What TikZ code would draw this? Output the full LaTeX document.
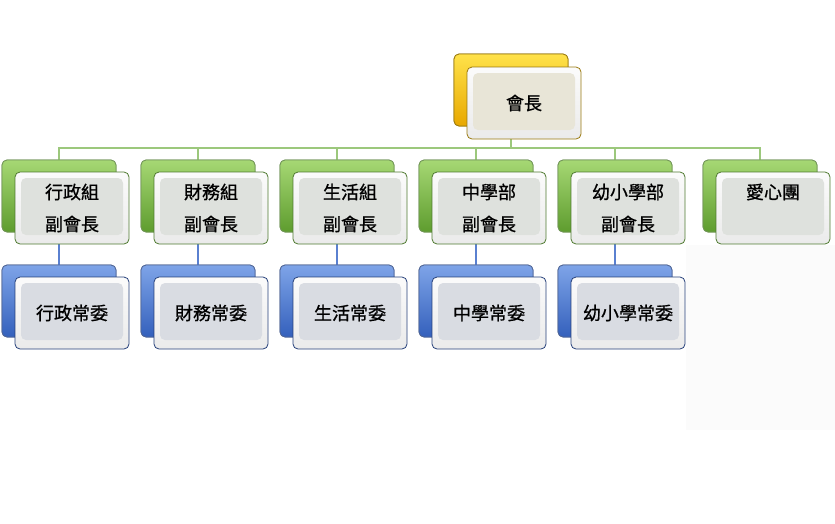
\documentclass[tikz,border=0pt]{standalone}
\usepackage{fontspec}
\newfontfamily\cjk[FakeBold=0.8]{Noto Sans CJK TC}
\definecolor{gtop}{HTML}{A6D874}
\definecolor{gbot}{HTML}{5E9C2E}
\definecolor{gline}{HTML}{9CC87C}
\definecolor{gbord}{HTML}{4F7A30}
\definecolor{btop}{HTML}{7EA4E8}
\definecolor{bbot}{HTML}{3460BC}
\definecolor{bline}{HTML}{5A80D0}
\definecolor{bbord}{HTML}{26407A}
\definecolor{ytop}{HTML}{FFE24A}
\definecolor{ybot}{HTML}{E8A800}
\definecolor{ybord}{HTML}{9A7A10}
\definecolor{facegray}{HTML}{DEE1DD}
\definecolor{facebeige}{HTML}{E8E5D7}
\definecolor{faceblue}{HTML}{D9DCE2}
\tikzset{
  box/.style={minimum width=114pt, minimum height=72pt, inner sep=0pt,
    rounded corners=5pt, line width=0.8pt},
  greenback/.style={box, top color=gtop, bottom color=gbot, draw=gbord!80},
  blueback/.style={box, top color=btop, bottom color=bbot, draw=bbord!80},
  yellowback/.style={box, top color=ytop, bottom color=ybot, draw=ybord},
  front/.style={box, top color=white!97!gray, bottom color=white!84!gray,
    font=\cjk\fontsize{18}{32}\selectfont, align=center, text=black,
    path picture={\fill[#1] ([shift={(6pt,-6pt)}]path picture bounding box.north west)
      rectangle ([shift={(-6pt,9pt)}]path picture bounding box.south east);}},
  frontg/.style={front=facegray, draw=gbord},
  frontb/.style={front=faceblue, draw=bbord},
  fronty/.style={front=facebeige, draw=ybord},
  gconn/.style={draw=gline, line width=1.3pt},
  bconn/.style={draw=bline, line width=1.3pt},
}
\begin{document}
\begin{tikzpicture}[x=1pt,y=-1pt]
\useasboundingbox (0,0) rectangle (835,523);
% faint patch on the right
\fill[black!1.5] (686,245) rectangle (835,430);
% back boxes
\node[yellowback] (b0) at (511,90) {};
\foreach \i/\x in {1/59,2/198,3/337,4/476,5/615,6/760}{
  \node[greenback] (g\i) at (\x,196) {};
}
\foreach \i/\x in {1/59,2/198,3/337,4/476,5/615}{
  \node[blueback] (h\i) at (\x,301) {};
}
% connectors
\coordinate (bus) at (511,148);
\draw[gconn] (b0.south) -- (bus);
\foreach \i in {1,...,6}{ \draw[gconn] (bus) -| (g\i.north); }
\foreach \i in {1,...,5}{ \draw[bconn] (g\i.south) -- (h\i.north); }
% redraw back boxes over connectors
\node[yellowback] at (b0) {};
\foreach \i in {1,...,6}{ \node[greenback] at (g\i) {}; }
\foreach \i in {1,...,5}{ \node[blueback] at (h\i) {}; }
% front boxes
\node[fronty] (f0) at (524,103) {會長};
\node[frontg] (f1) at (72,208) {行政組\\副會長};
\node[frontg] (f2) at (211,208) {財務組\\副會長};
\node[frontg] (f3) at (350,208) {生活組\\副會長};
\node[frontg] (f4) at (489,208) {中學部\\副會長};
\node[frontg] (f5) at (628,208) {幼小學部\\副會長};
\node[frontg] (f6) at (773,208) {愛心團\\\phantom{副會長}};
\node[frontb] (k1) at (72,313) {行政常委};
\node[frontb] (k2) at (211,313) {財務常委};
\node[frontb] (k3) at (350,313) {生活常委};
\node[frontb] (k4) at (489,313) {中學常委};
\node[frontb] (k5) at (628,313) {幼小學常委};
\end{tikzpicture}
\end{document}
